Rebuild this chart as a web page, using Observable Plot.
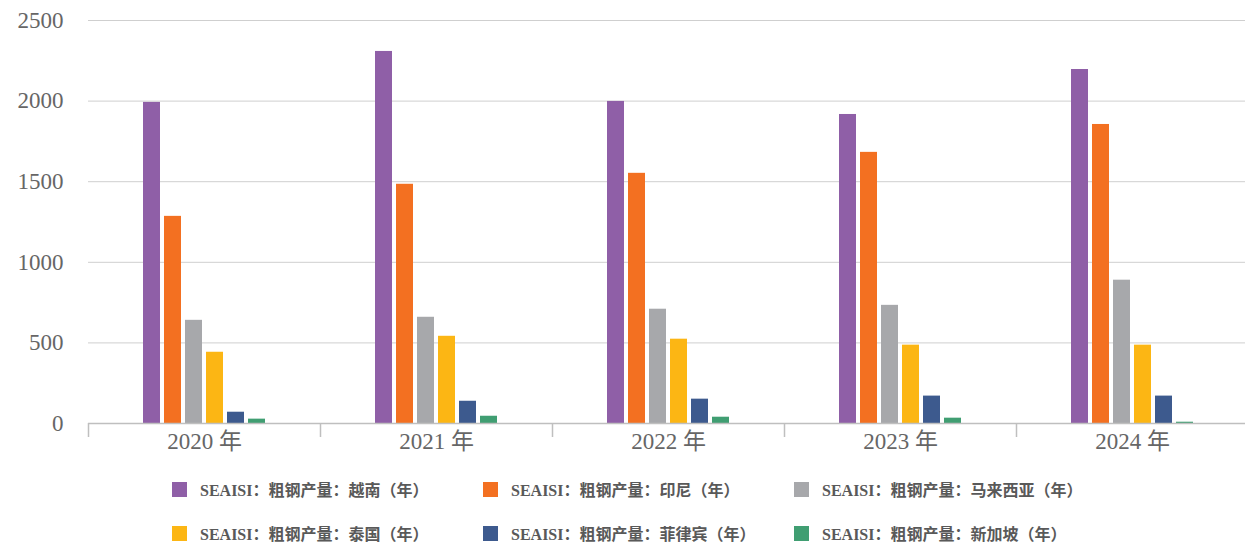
<!DOCTYPE html>
<html>
<head>
<meta charset="utf-8">
<script src="https://cdn.jsdelivr.net/npm/d3@7"></script>
<script src="https://cdn.jsdelivr.net/npm/@observablehq/plot@0.6"></script>
<style>
  body { margin: 0; background: #fff; overflow: hidden; }
  #legend {
    display: grid;
    grid-template-columns: 311px 311px 311px;
    grid-auto-rows: 44px;
    margin-left: 172px;
    padding-top: 4px;
    font-family: "Liberation Serif", "Noto Sans CJK SC", serif;
    font-weight: bold;
    font-size: 16px;
    color: #595959;
  }
  .item { display: flex; align-items: center; }
  .sw { width: 15px; height: 15px; margin-right: 13px; flex: none; }
</style>
</head>
<body>
<div id="chart"></div>
<div id="legend"></div>
<script>
const years = ["2020 年", "2021 年", "2022 年", "2023 年", "2024 年"];
const series = [
  "SEAISI：粗钢产量：越南（年）",
  "SEAISI：粗钢产量：印尼（年）",
  "SEAISI：粗钢产量：马来西亚（年）",
  "SEAISI：粗钢产量：泰国（年）",
  "SEAISI：粗钢产量：菲律宾（年）",
  "SEAISI：粗钢产量：新加坡（年）"
];
const colors = ["#8f5fa7", "#f37021", "#a7a8ab", "#fcb614", "#3d5a8e", "#409e72"];
const vietnam     = [1992, 2308, 1998, 1917, 2196];
const indonesia   = [1285, 1484, 1552, 1682, 1855];
const malaysia    = [640, 659, 709, 733, 889];
const thailand    = [442, 541, 523, 486, 486];
const philippines = [70, 138, 151, 170, 170];
const singapore   = [27, 45, 39, 33, 8];
const yTicks = [0, 500, 1000, 1500, 2000, 2500];

const valuesBySeries = [vietnam, indonesia, malaysia, thailand, philippines, singapore];
const data = [];
series.forEach((s, si) => {
  years.forEach((y, yi) => data.push({year: y, series: s, value: valuesBySeries[si][yi]}));
});

const serif = "'Liberation Serif', 'Noto Sans CJK SC', serif";

const chart = Plot.plot({
  width: 1245,
  height: 463,
  marginLeft: 86,
  marginRight: -4,
  marginTop: 20,
  marginBottom: 40,
  style: {fontFamily: serif, color: "#666", background: "#fff", overflow: "hidden"},
  fx: {domain: years, padding: 0, label: null},
  x: {domain: series, paddingInner: 0.2, paddingOuter: 2.5, axis: null},
  y: {domain: [0, 2500], label: null},
  color: {domain: series, range: colors},
  marks: [
    Plot.gridY(yTicks.slice(1), {stroke: "#cfcfcf", strokeOpacity: 1}),
    Plot.axisY(yTicks, {tickSize: 0, tickPadding: 25, fontSize: 23, label: null, fill: "#666", tickFormat: d3.format("d")}),
    Plot.barY(data, {fx: "year", x: "series", y: "value", fill: "series"}),
    Plot.ruleY([0], {stroke: "#bfbfbf", strokeWidth: 1.5}),
    Plot.axisFx({anchor: "bottom", tickSize: 0, tickPadding: 9, fontSize: 23, label: null, fill: "#666"}),
    Plot.axisFx({anchor: "bottom", tickSize: 14, dx: -116, text: null, label: null, stroke: "#bfbfbf", strokeWidth: 1.5})
  ]
});
document.getElementById("chart").appendChild(chart);

const legend = document.getElementById("legend");
series.forEach((s, i) => {
  const item = document.createElement("div");
  item.className = "item";
  const sw = document.createElement("span");
  sw.className = "sw";
  sw.style.background = colors[i];
  const t = document.createElement("span");
  t.textContent = s;
  item.appendChild(sw);
  item.appendChild(t);
  legend.appendChild(item);
});
</script>
</body>
</html>
